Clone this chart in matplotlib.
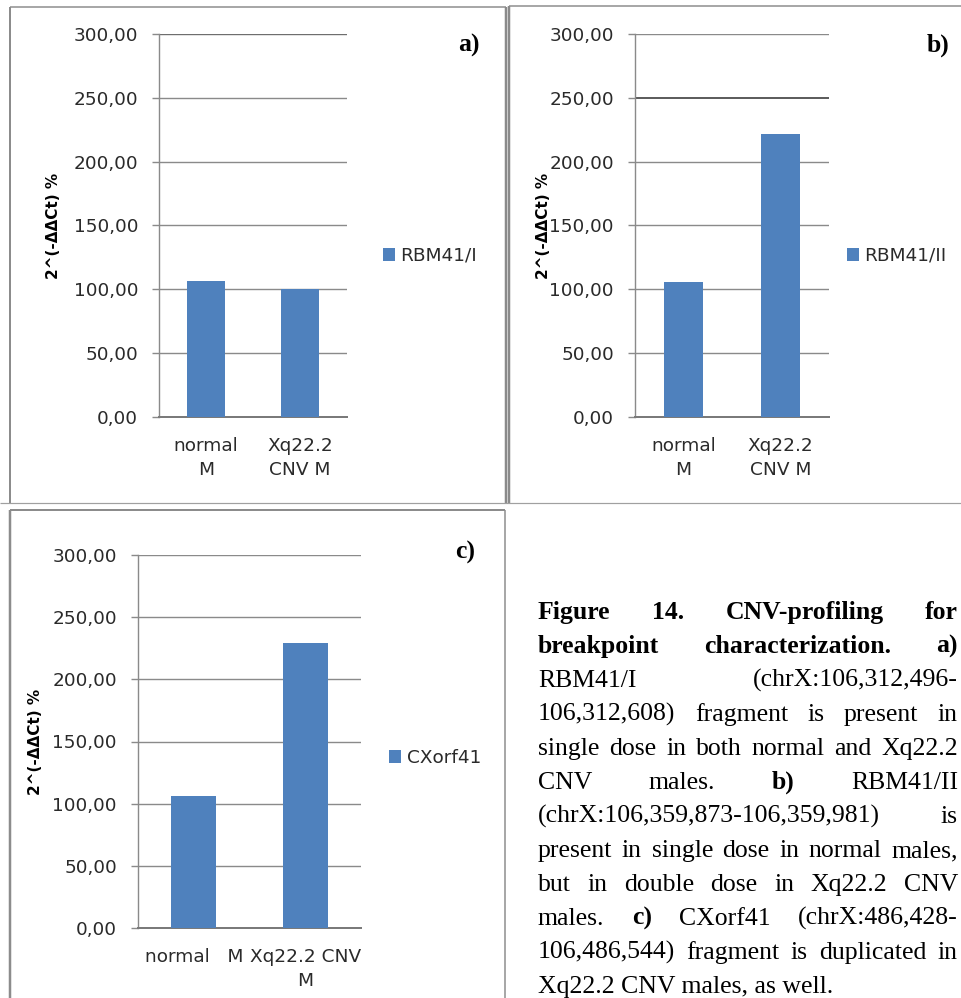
import matplotlib
matplotlib.use("Agg")
import matplotlib.pyplot as plt
from matplotlib.lines import Line2D
from matplotlib.patches import Patch
from matplotlib.ticker import FuncFormatter, MultipleLocator

# ---- data -------------------------------------------------------------
categories_ab = ["normal\nM", "Xq22.2\nCNV M"]
categories_c = ["normal   M", "Xq22.2 CNV\nM"]
rbm41_i = [106.5, 100.0]
rbm41_ii = [106.0, 222.0]
cxorf41 = [106.0, 229.5]
series_names = ["RBM41/I", "RBM41/II", "CXorf41"]
panel_tags = ["a)", "b)", "c)"]
y_ticks = [0, 50, 100, 150, 200, 250, 300]
y_label = "2^(-ΔΔCt) %"

caption_lines = [
    [("Figure", True), ("14.", True), ("CNV-profiling", True), ("for", True)],
    [("breakpoint", True), ("characterization.", True), ("a)", True)],
    [("RBM41/I", False), ("(chrX:106,312,496-", False)],
    [("106,312,608)", False), ("fragment", False), ("is", False), ("present", False), ("in", False)],
    [("single", False), ("dose", False), ("in", False), ("both", False), ("normal", False),
     ("and", False), ("Xq22.2", False)],
    [("CNV", False), ("males.", False), ("b)", True), ("RBM41/II", False)],
    [("(chrX:106,359,873-106,359,981)", False), ("is", False)],
    [("present", False), ("in", False), ("single", False), ("dose", False), ("in", False),
     ("normal", False), ("males,", False)],
    [("but", False), ("in", False), ("double", False), ("dose", False), ("in", False),
     ("Xq22.2", False), ("CNV", False)],
    [("males.", False), ("c)", True), ("CXorf41", False), ("(chrX:486,428-", False)],
    [("106,486,544)", False), ("fragment", False), ("is", False), ("duplicated", False), ("in", False)],
    [("Xq22.2 CNV males, as well.", False)],
]

# ---- figure setup -------------------------------------------------------
W, H = 962, 998
DPI = 100
PT = 72.0 / DPI  # points per pixel
fig = plt.figure(figsize=(W / DPI, H / DPI), dpi=DPI)
fig.patch.set_facecolor("white")
plt.rcParams["font.family"] = ["DejaVu Sans"]

BAR = "#4F81BD"
GRID = "#8A8A8A"
TXT = "#2A2A2A"
FRAME = "#8C8C8C"
TICK_FS = 13.3
SERIF = "Liberation Serif"


def fx(x):
    return x / W


def fy(y):
    return 1 - y / H


def px_axes(left, top, right, bottom):
    return fig.add_axes([fx(left), fy(bottom), (right - left) / W, (bottom - top) / H])


def comma_fmt(v, pos):
    return f"{v:.2f}".replace(".", ",")


def draw_panel(ax, cats, vals, series, tag, legend_xy, ylabel_x, tag_xy):
    x = list(range(len(vals)))
    ax.bar(x, vals, width=0.4, color=BAR, zorder=3)
    ax.set_xlim(-0.5, len(vals) - 0.5)
    ax.set_ylim(0, 300)
    ax.set_yticks(y_ticks)
    ax.yaxis.set_major_formatter(FuncFormatter(comma_fmt))
    ax.grid(axis="y", color=GRID, lw=1.4 * PT, zorder=0)
    ax.set_axisbelow(True)
    for s in ("top", "right"):
        ax.spines[s].set_visible(False)
    ax.spines["left"].set_color(GRID)
    ax.spines["left"].set_linewidth(1.4 * PT)
    ax.spines["bottom"].set_color("#7A7A7A")
    ax.spines["bottom"].set_linewidth(2 * PT)
    ax.tick_params(axis="y", length=7 * PT, width=1.4 * PT, color=GRID,
                   pad=14 * PT, labelsize=TICK_FS, labelcolor=TXT)
    ax.set_xticks(x)
    ax.set_xticklabels(cats, linespacing=1.45)
    ax.tick_params(axis="x", length=0, pad=20 * PT, labelsize=TICK_FS, labelcolor=TXT)
    ax.set_ylabel(y_label, fontsize=11, fontweight="bold", color="black", va="center")
    ax.yaxis.set_label_coords(ylabel_x, 0.5)

    handle = Patch(facecolor=BAR, edgecolor="none")
    ax.legend([handle], [series], loc="center left",
              bbox_to_anchor=(fx(legend_xy[0]), fy(legend_xy[1])),
              bbox_transform=fig.transFigure, frameon=False, fontsize=TICK_FS,
              handlelength=0.65, handleheight=0.7, handletextpad=0.3,
              borderpad=0, borderaxespad=0, labelcolor=TXT)
    fig.text(fx(tag_xy[0]), fy(tag_xy[1]), tag, fontfamily=SERIF, fontweight="bold",
             fontsize=18.5, ha="left", va="center", color="black")


# panel a
ax_a = px_axes(159, 34, 347, 417)
draw_panel(ax_a, categories_ab, rbm41_i, series_names[0], panel_tags[0],
           (383, 256), -106 / 188, (458, 45))
# panel b
ax_b = px_axes(635, 34, 829, 417)
draw_panel(ax_b, categories_ab, rbm41_ii, series_names[1], panel_tags[1],
           (847, 256), -92 / 194, (927, 45))
# panel c
ax_c = px_axes(138, 555, 361, 928)
draw_panel(ax_c, categories_c, cxorf41, series_names[2], panel_tags[2],
           (389, 758), -103 / 223, (455, 552))

# heavier rules picked up in the scanned panels
ax_a.get_ygridlines()[-1].set_color("#6E6E6E")
ax_b.get_ygridlines()[5].set_color("#5E5E5E")
ax_b.get_ygridlines()[5].set_linewidth(2 * PT)

# ---- panel frames -------------------------------------------------------
def frame_line(x0, y0, x1, y1, lw_px=2, color=FRAME):
    fig.add_artist(Line2D([fx(x0), fx(x1)], [fy(y0), fy(y1)], color=color,
                          lw=lw_px * PT, solid_capstyle="butt"))

# panel a box
frame_line(10, 7, 10, 503)
frame_line(10, 7, 506, 7, 1.5)
frame_line(506, 7, 506, 503, 2.5, "#8A8A8A")
# panel b box
frame_line(509, 6, 509, 503, 2.5, "#8A8A8A")
frame_line(509, 6, 962, 6, 1.5)
frame_line(0, 503, 962, 503, 1.2, "#A0A0A0")
# panel c box
frame_line(10, 510, 505, 510, 2)
frame_line(10, 510, 10, 998, 2.5)
frame_line(505, 510, 505, 998, 1.5)

# ---- justified caption -------------------------------------------------
fig.canvas.draw()
renderer = fig.canvas.get_renderer()
CAP_LEFT, CAP_RIGHT = 538, 958
CAP_BASE0, CAP_STEP = 619, 34.0
CAP_FS = 18.5

for i, line in enumerate(caption_lines):
    y = fy(CAP_BASE0 + CAP_STEP * i)
    texts = []
    for word, bold in line:
        t = fig.text(0, y, word, fontfamily=SERIF, fontsize=CAP_FS,
                     fontweight="bold" if bold else "normal",
                     ha="left", va="baseline", color="black")
        texts.append(t)
    widths = [t.get_window_extent(renderer).width for t in texts]
    last = i == len(caption_lines) - 1
    if len(texts) > 1 and not last:
        gap = (CAP_RIGHT - CAP_LEFT - sum(widths)) / (len(texts) - 1)
    else:
        gap = 0
    xpos = CAP_LEFT
    for t, w in zip(texts, widths):
        t.set_x(fx(xpos))
        xpos += w + gap

fig.savefig("out.png", dpi=DPI, facecolor="white")
